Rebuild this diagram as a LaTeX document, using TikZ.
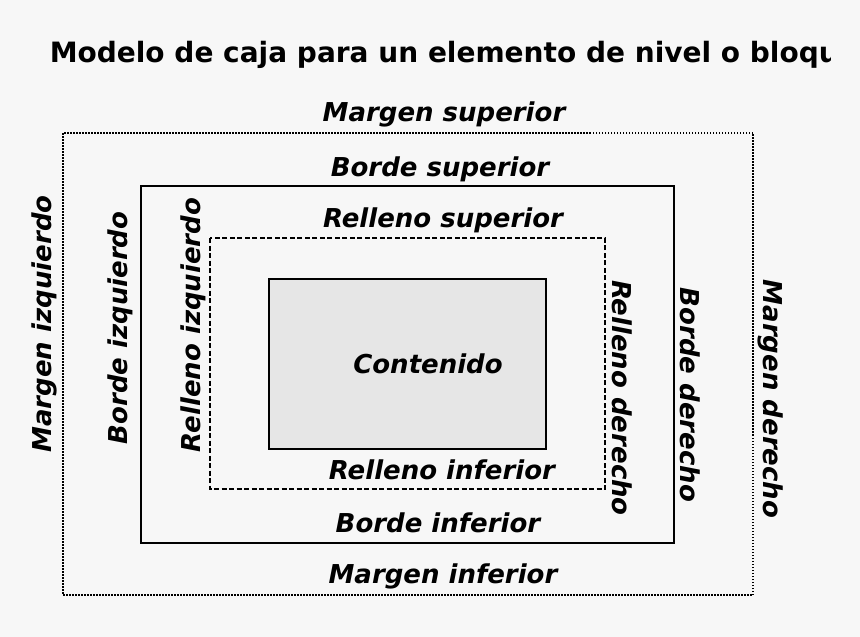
\documentclass[tikz,border=0pt]{standalone}
\usepackage{fontspec}
\setmainfont{DejaVu Sans}
\definecolor{fondo}{HTML}{F7F7F7}
\definecolor{contenido}{HTML}{E6E6E6}

\begin{document}
\begin{tikzpicture}
[x=1pt,y=-1pt,line width=1.5pt,every node/.style={font=\fontsize{26}{30}\selectfont\bfseries\itshape,inner sep=0pt,anchor=base}]
\useasboundingbox (0,0) rectangle (860,637);
\fill[fondo] (0,0) rectangle (860,637);
\begin{scope}
\clip (0,0) rectangle (830,90);
\node[font=\fontsize{28}{32}\selectfont\bfseries,anchor=base west] (titulo) at (49,62) {Modelo de caja para un elemento de nivel o bloque};
\end{scope}
\draw[dash pattern=on 1.5pt off 1.5pt] (63,133) rectangle (753,595);
\draw (141,186) rectangle (674,543);
\draw[dash pattern=on 5pt off 2.5pt] (210,238) rectangle (605,489);
\draw[fill=contenido] (269,279) rectangle (546,449);
\node (msup) at (444,121) {Margen superior};
\node (bsup) at (440,176) {Borde superior};
\node (rsup) at (443,227) {Relleno superior};
\node (cont) at (428,373) {Contenido};
\node (rinf) at (442,479) {Relleno inferior};
\node (binf) at (438,532) {Borde inferior};
\node (minf) at (443,583) {Margen inferior};
\node[rotate=90] (mizq) at (51,324) {Margen izquierdo};
\node[rotate=90] (bizq) at (127,328) {Borde izquierdo};
\node[rotate=90] (rizq) at (200,325) {Relleno izquierdo};
\node[rotate=-90] (rder) at (612,398) {Relleno derecho};
\node[rotate=-90] (bder) at (680,395) {Borde derecho};
\node[rotate=-90] (mder) at (763,399) {Margen derecho};
\end{tikzpicture}
\end{document}
